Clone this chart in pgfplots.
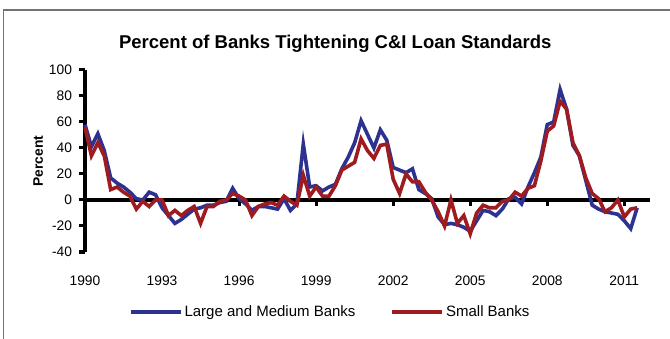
\documentclass[border=0pt]{standalone}
\usepackage{pgfplots}
\pgfplotsset{compat=1.18}
\usepackage{pgfplotstable}
\usepackage{fontspec}
\setmainfont{Liberation Sans}
\definecolor{lmblue}{RGB}{45,50,145}
\definecolor{smred}{RGB}{158,27,31}
% k = quarters since the first survey (plotted at 1990)
\pgfplotstableread{
k v
0 58
1 41
2 51
3 38
4 17
5 13
6 10
7 6
8 1
9 0
10 6
11 4
12 -6
13 -12
14 -18
15 -15
16 -11
17 -7
18 -6
19 -4
20 -4
21 -2
22 -1
23 9
24 1
25 -3
26 -8
27 -5
28 -5
29 -6
30 -7
31 1
32 -8
33 -3
34 43
35 10
36 11
37 7
38 10
39 12
40 24
41 33
42 44
43 61
45 40
46 54
47 46
48 25
49 23
50 21
51 24
52 8
53 5
54 1
55 -13
56 -19
57 -18
58 -19
59 -21
60 -24
62 -8
63 -9
64 -12
65 -7
66 1
67 2
68 -3
69 10
70 21
71 33
72 58
73 60
74 85
75 70
76 42
77 34
78 15
79 -4
80 -7
81 -9
82 -10
83 -11
84 -16
85 -22
86 -6
}\largebanks
\pgfplotstableread{
k v
0 56
1 34
2 44
3 34
4 8
5 10
6 6
7 3
8 -7
9 -1
10 -5
11 0
12 0
13 -12
14 -8
15 -12
16 -8
17 -5
18 -18
19 -5
20 -5
21 -1
22 0
23 5
24 3
25 0
26 -12
27 -5
28 -3
29 -2
30 -4
31 3
32 -1
33 -4
34 19
35 3
36 10
37 3
38 3
39 11
40 23
41 26
42 29
43 47
44 38
45 32
46 42
47 43
48 16
49 5
50 20
51 14
52 14
53 6
54 0
55 -9
56 -20
57 0
58 -18
59 -12
60 -26
61 -10
62 -4
63 -6
64 -6
65 -1
66 0
67 6
68 3
69 9
70 11
71 30
72 53
73 57
74 76
75 70
76 44
77 34
78 17
79 5
80 1
81 -9
82 -6
83 0
84 -13
85 -7
86 -6
}\smallbanks
\begin{document}
\begin{tikzpicture}
\useasboundingbox (0,0) rectangle (670bp,339bp);
\draw[black!55, line width=1.2bp] (3.5bp,0) -- (3.5bp,329bp) -- (670bp,329bp);
\begin{axis}[
  at={(85bp,87bp)}, anchor=south west,
  scale only axis, width=565bp, height=182bp,
  xmin=0, xmax=88, ymin=-40, ymax=100,
  axis lines*=left,
  x axis line style={draw=none},
  y axis line style={line width=3.5bp, black},
  xtick={0,12,24,36,48,60,72,84},
  xticklabels={1990,1993,1996,1999,2002,2005,2008,2011},
  xtick style={draw=none},
  ytick={-40,-20,0,20,40,60,80,100},
  ytick style={line width=3bp, black},
  tick align=outside,
  major tick length=6.5bp,
  tick label style={font=\fontsize{13.8bp}{16bp}\selectfont},
  xticklabel style={yshift=-14bp},
  yticklabel style={xshift=-3bp},
  /pgf/number format/assume math mode=true,
  ylabel={Percent},
  ylabel style={at={(axis description cs:-0.083,0.5)}, anchor=center, font=\fontsize{13.8bp}{16bp}\selectfont\bfseries},
  title={Percent of Banks Tightening C\&I Loan Standards},
  title style={at={(axis description cs:0.443,1)}, anchor=center, yshift=20bp, font=\fontsize{18.5bp}{22bp}\selectfont\bfseries},
  clip=false,
  legend columns=2,
  legend style={at={(axis description cs:0.434,-0.33)}, anchor=center, draw=none, fill=none,
    font=\fontsize{15bp}{17bp}\selectfont,
    /tikz/every even column/.append style={column sep=33bp}},
  legend image code/.code={\draw[#1] (0bp,0bp) -- (50bp,0bp);},
]
\draw[line width=3.5bp, black] (axis cs:0,0) -- (axis cs:88,0);
\draw[line width=3bp] (axis cs:12,0) -- ([yshift=-6bp]axis cs:12,0);
\draw[line width=3bp] (axis cs:24,0) -- ([yshift=-6bp]axis cs:24,0);
\draw[line width=3bp] (axis cs:36,0) -- ([yshift=-6bp]axis cs:36,0);
\draw[line width=3bp] (axis cs:48,0) -- ([yshift=-6bp]axis cs:48,0);
\draw[line width=3bp] (axis cs:60,0) -- ([yshift=-6bp]axis cs:60,0);
\draw[line width=3bp] (axis cs:72,0) -- ([yshift=-6bp]axis cs:72,0);
\draw[line width=3bp] (axis cs:84,0) -- ([yshift=-6bp]axis cs:84,0);
\addplot[lmblue, line width=3.6bp, line join=miter] table[x=k, y=v] {\largebanks};
\addlegendentry{Large and Medium Banks}
\addplot[smred, line width=3.6bp, line join=miter] table[x=k, y=v] {\smallbanks};
\addlegendentry{Small Banks}
\end{axis}
\end{tikzpicture}
\end{document}
